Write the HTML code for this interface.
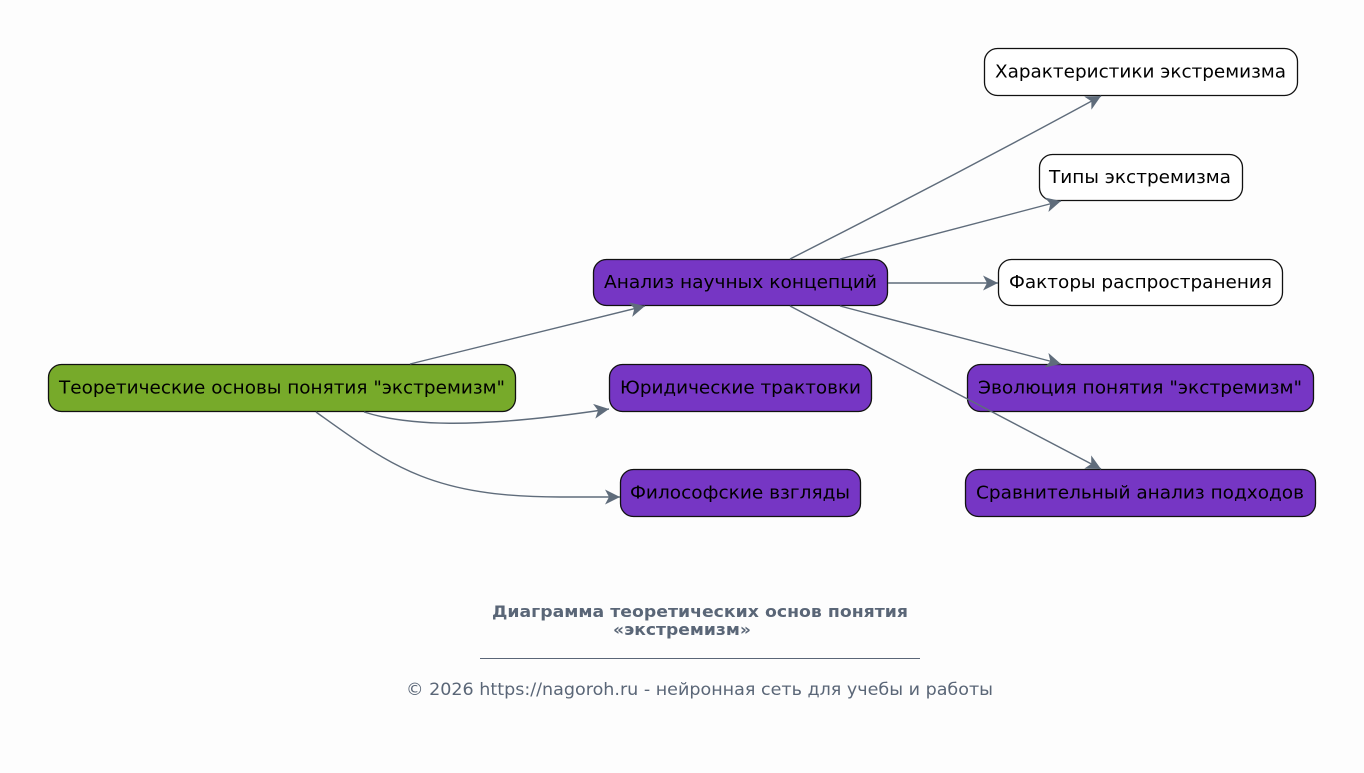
<!DOCTYPE html>
<html><head><meta charset="utf-8"><style>
html,body{margin:0;padding:0;background:#fdfdfd;}
svg{display:block;}
text{font-family:"DejaVu Sans","Liberation Sans",sans-serif;}
</style></head><body>
<svg width="1364" height="773" viewBox="0 0 1364 773" xmlns="http://www.w3.org/2000/svg">
<defs>
<marker id="a" markerUnits="userSpaceOnUse" markerWidth="18" markerHeight="18" refX="15" refY="7.5" orient="auto">
<path d="M0,0 L15,7.5 L0,15 L4,7.5 z" fill="#5f6c7b"/>
</marker>
</defs>
<rect width="1364" height="773" fill="#fdfdfd"/>
<g font-size="18" fill="#000">
<rect x="48.5" y="364.5" width="467" height="47" rx="13" fill="#77aa2a" stroke="#111" stroke-width="1.3"/>
<text x="59" y="388" dominant-baseline="central" textLength="446" lengthAdjust="spacingAndGlyphs">Теоретические основы понятия "экстремизм"</text>
<rect x="593.5" y="259.5" width="294" height="46" rx="13" fill="#7636c4" stroke="#111" stroke-width="1.3"/>
<text x="604" y="282.5" dominant-baseline="central" textLength="273" lengthAdjust="spacingAndGlyphs">Анализ научных концепций</text>
<rect x="609.5" y="364.5" width="262" height="47" rx="13" fill="#7636c4" stroke="#111" stroke-width="1.3"/>
<text x="620" y="388" dominant-baseline="central" textLength="241" lengthAdjust="spacingAndGlyphs">Юридические трактовки</text>
<rect x="620.5" y="469.5" width="240" height="47" rx="13" fill="#7636c4" stroke="#111" stroke-width="1.3"/>
<text x="630" y="493" dominant-baseline="central" textLength="220" lengthAdjust="spacingAndGlyphs">Философские взгляды</text>
<rect x="984.5" y="48.5" width="313" height="47" rx="13" fill="#fff" stroke="#111" stroke-width="1.3"/>
<text x="995" y="72" dominant-baseline="central" textLength="291" lengthAdjust="spacingAndGlyphs">Характеристики экстремизма</text>
<rect x="1039.5" y="154.5" width="203" height="46" rx="13" fill="#fff" stroke="#111" stroke-width="1.3"/>
<text x="1049" y="177.5" dominant-baseline="central" textLength="182" lengthAdjust="spacingAndGlyphs">Типы экстремизма</text>
<rect x="998.5" y="259.5" width="284" height="46" rx="13" fill="#fff" stroke="#111" stroke-width="1.3"/>
<text x="1009" y="282.5" dominant-baseline="central" textLength="263" lengthAdjust="spacingAndGlyphs">Факторы распространения</text>
<rect x="967.5" y="364.5" width="346" height="47" rx="13" fill="#7636c4" stroke="#111" stroke-width="1.3"/>
<text x="978" y="388" dominant-baseline="central" textLength="324" lengthAdjust="spacingAndGlyphs">Эволюция понятия "экстремизм"</text>
<rect x="965.5" y="469.5" width="350" height="47" rx="13" fill="#7636c4" stroke="#111" stroke-width="1.3"/>
<text x="976" y="493" dominant-baseline="central" textLength="328" lengthAdjust="spacingAndGlyphs">Сравнительный анализ подходов</text>
</g>
<g fill="none" stroke="#5f6c7b" stroke-width="1.4">
<path d="M410,364 L645,306" marker-end="url(#a)"/>
<path d="M364,412 C405,425 470,430 609,409" marker-end="url(#a)"/>
<path d="M316,412 C390,465 430,497 560,497 L620,497" marker-end="url(#a)"/>
<path d="M790,259 Q950,178 1101,96" marker-end="url(#a)"/>
<path d="M840,259 L1061,201" marker-end="url(#a)"/>
<path d="M888,283 L998,283" marker-end="url(#a)"/>
<path d="M840,306 L1061,364" marker-end="url(#a)"/>
<path d="M790,306 L1101,469" marker-end="url(#a)"/>
</g>
<g fill="#5a6677">
<text x="492" y="617" font-size="16" font-weight="bold" textLength="416" lengthAdjust="spacingAndGlyphs">Диаграмма теоретических основ понятия</text>
<text x="613" y="635" font-size="16" font-weight="bold" textLength="138" lengthAdjust="spacingAndGlyphs">«экстремизм»</text>
<line x1="480" y1="658.5" x2="920" y2="658.5" stroke="#5a6677" stroke-width="1"/>
<text x="406" y="695" font-size="17" textLength="587" lengthAdjust="spacingAndGlyphs">© 2026 https://nagoroh.ru - нейронная сеть для учебы и работы</text>
</g>
</svg>
</body></html>
